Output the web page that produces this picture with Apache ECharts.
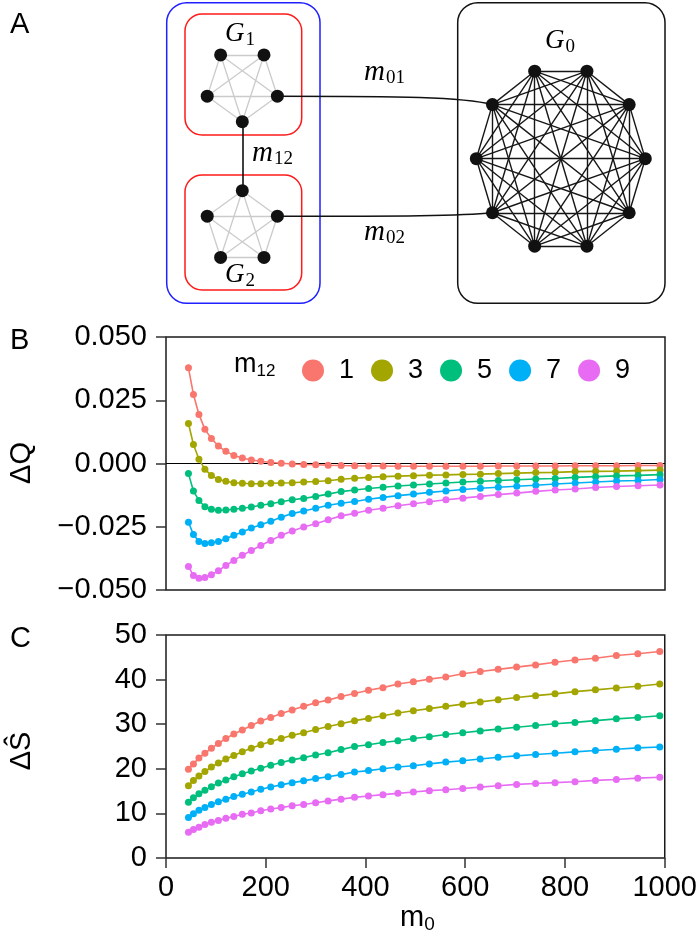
<!DOCTYPE html>
<html>
<head>
<meta charset="utf-8">
<title>Modules G1, G2 and G0: dQ and dS against m0</title>
<script src="https://cdn.jsdelivr.net/npm/echarts@6/dist/echarts.min.js"></script>
<style>
  html, body { margin: 0; padding: 0; background: #fff; }
  #chart { width: 700px; height: 939px; }
</style>
</head>
<body>
<div id="chart"></div>
<script>
// x values: m0 (links inside G0)
var m0 = [45, 55, 66, 78, 91, 105, 120, 136, 153, 171, 190, 210, 231, 253, 276, 300, 325, 351,
          378, 406, 435, 465, 496, 528, 561, 595, 630, 666, 703, 741, 780, 820, 861, 903, 946, 990];

var m12Levels = ['1', '3', '5', '7', '9'];
var colors = ['#F8766D', '#A3A500', '#00BF7D', '#00B0F6', '#E76BF3'];

// panel B, delta Q
var dQ1 = [0.0378, 0.0273, 0.0194, 0.0135, 0.0099, 0.0069, 0.0048, 0.0032, 0.0022, 0.0014, 0.0009, 0.0004,
           0.0001, -0.0002, -0.0004, -0.0005, -0.0007, -0.0008, -0.0009, -0.0010, -0.0010, -0.0011, -0.0011, -0.0011,
           -0.0011, -0.0011, -0.0011, -0.0010, -0.0010, -0.0010, -0.0010, -0.0009, -0.0009, -0.0009, -0.0008, -0.0008];
var dQ3 = [0.0158, 0.0075, 0.0017, -0.0023, -0.0047, -0.0063, -0.0070, -0.0076, -0.0078, -0.0080, -0.0080, -0.0078,
           -0.0077, -0.0076, -0.0073, -0.0071, -0.0068, -0.0062, -0.0058, -0.0055, -0.0052, -0.0050, -0.0048, -0.0046,
           -0.0045, -0.0043, -0.0042, -0.0040, -0.0038, -0.0036, -0.0035, -0.0032, -0.0031, -0.0030, -0.0028, -0.0026];
var dQ5 = [-0.0040, -0.0109, -0.0146, -0.0171, -0.0181, -0.0185, -0.0184, -0.0181, -0.0177, -0.0172, -0.0165, -0.0159,
           -0.0151, -0.0143, -0.0138, -0.0130, -0.0121, -0.0111, -0.0105, -0.0099, -0.0094, -0.0089, -0.0085, -0.0081,
           -0.0077, -0.0073, -0.0070, -0.0067, -0.0064, -0.0061, -0.0059, -0.0055, -0.0052, -0.0049, -0.0047, -0.0044];
var dQ7 = [-0.0232, -0.0281, -0.0308, -0.0316, -0.0313, -0.0308, -0.0297, -0.0284, -0.0271, -0.0255, -0.0242, -0.0228,
           -0.0212, -0.0198, -0.0188, -0.0177, -0.0165, -0.0157, -0.0150, -0.0141, -0.0134, -0.0127, -0.0121, -0.0114,
           -0.0109, -0.0103, -0.0098, -0.0094, -0.0090, -0.0086, -0.0081, -0.0077, -0.0073, -0.0069, -0.0067, -0.0063];
var dQ9 = [-0.0407, -0.0443, -0.0454, -0.0451, -0.0440, -0.0424, -0.0403, -0.0383, -0.0363, -0.0344, -0.0324, -0.0304,
           -0.0284, -0.0267, -0.0251, -0.0238, -0.0222, -0.0207, -0.0197, -0.0185, -0.0177, -0.0167, -0.0159, -0.0151,
           -0.0143, -0.0137, -0.0130, -0.0123, -0.0117, -0.0110, -0.0105, -0.0101, -0.0095, -0.0091, -0.0088, -0.0085];

// panel C, delta S hat
var dS1 = [19.9, 21.1, 22.4, 23.5, 24.6, 25.7, 26.8, 27.8, 28.7, 29.7, 30.7, 31.5, 32.4, 33.2, 34.0, 34.8, 35.4, 36.2,
           36.9, 37.6, 38.2, 39.0, 39.5, 40.1, 40.6, 41.3, 41.8, 42.3, 42.8, 43.3, 43.9, 44.4, 44.8, 45.4, 45.8, 46.3];
var dS3 = [16.2, 17.4, 18.4, 19.4, 20.4, 21.3, 22.2, 23.0, 23.8, 24.6, 25.4, 26.1, 26.8, 27.5, 28.1, 28.8, 29.5, 30.1,
           30.8, 31.3, 31.9, 32.5, 33.0, 33.5, 34.0, 34.5, 35.0, 35.5, 36.0, 36.4, 36.8, 37.3, 37.7, 38.1, 38.5, 39.0];
var dS5 = [12.5, 13.5, 14.4, 15.2, 16.0, 16.8, 17.5, 18.2, 18.9, 19.5, 20.1, 20.8, 21.4, 22.0, 22.5, 23.1, 23.6, 24.3,
           25.0, 25.4, 25.9, 26.3, 26.8, 27.2, 27.7, 28.1, 28.5, 28.9, 29.3, 29.7, 30.1, 30.4, 30.8, 31.2, 31.5, 31.9];
var dS7 = [9.1, 9.9, 10.7, 11.3, 12.0, 12.6, 13.2, 13.8, 14.3, 14.8, 15.4, 15.9, 16.4, 16.9, 17.3, 17.8, 18.2, 18.7,
           19.3, 19.6, 20.0, 20.4, 20.7, 21.1, 21.5, 21.8, 22.2, 22.6, 22.9, 23.2, 23.5, 23.8, 24.1, 24.4, 24.7, 24.9];
var dS9 = [5.8, 6.4, 6.9, 7.5, 8.0, 8.4, 8.9, 9.3, 9.8, 10.1, 10.6, 11.0, 11.3, 11.7, 12.0, 12.4, 12.8, 13.2,
           13.6, 13.9, 14.2, 14.5, 14.8, 15.1, 15.3, 15.6, 15.9, 16.2, 16.5, 16.7, 16.9, 17.1, 17.4, 17.6, 17.9, 18.1];

var dQ = [dQ1, dQ3, dQ5, dQ7, dQ9];
var dS = [dS1, dS3, dS5, dS7, dS9];

var sans = '"Liberation Sans", Arial, Helvetica, sans-serif';
var serif = '"Liberation Serif", "DejaVu Serif", serif';

function pairs(ys) {
  return m0.map(function (x, i) { return [x, ys[i]]; });
}

// regular polygon layout for the diagram (panel A), in the hidden 1:1 grid
function ring(cx, cy, rx, ry, startDeg, count) {
  var pts = [];
  for (var i = 0; i < count; i++) {
    var a = (startDeg + i * 360 / count) * Math.PI / 180;
    pts.push([cx + rx * Math.cos(a), cy + ry * Math.sin(a)]);
  }
  return pts;
}

var g1 = ring(242.3, 84.8, 36.9, 36.9, 18, 5);   // 0 = right, 1 = bottom
var g2 = ring(242.3, 227.6, 36.9, 36.9, -18, 5); // 0 = right, 4 = top
var g0 = ring(560.8, 158.7, 84.5, 92, 0, 10);    // 4 = lower left, 6 = upper left

var nodes = [];
var links = [];
function addClique(pts, edgeColor, edgeWidth) {
  var base = nodes.length;
  pts.forEach(function (p) { nodes.push({ value: p }); });
  for (var i = 0; i < pts.length; i++) {
    for (var j = i + 1; j < pts.length; j++) {
      links.push({ source: base + i, target: base + j,
                   lineStyle: { color: edgeColor, width: edgeWidth, opacity: 1 } });
    }
  }
  return base;
}
var b1 = addClique(g1, '#cbcbcb', 1.3);
var b2 = addClique(g2, '#cbcbcb', 1.3);
var b0 = addClique(g0, '#161616', 1.4);
links.push({ source: b1 + 1, target: b2 + 4, lineStyle: { color: '#111', width: 1.6, opacity: 1 } });

var qLabel = function (v) {
  if (Math.abs(v) < 1e-9) return '0.000';
  return v.toFixed(3).replace('-', '\u2212');
};

var tickStyle = { show: true, inside: false, length: 10, lineStyle: { color: '#333', width: 1.5 } };

var series = [];
m12Levels.forEach(function (name, k) {
  var s = {
    name: name, type: 'line', xAxisIndex: 0, yAxisIndex: 0,
    data: pairs(dQ[k]), symbol: 'circle', symbolSize: 7,
    itemStyle: { color: colors[k] }, lineStyle: { color: colors[k], width: 1.6 },
    z: 3
  };
  if (k === 0) {
    s.markLine = {
      silent: true, symbol: 'none', label: { show: false },
      lineStyle: { color: '#000', width: 1, type: 'solid' },
      data: [{ yAxis: 0 }], z: 2
    };
  }
  series.push(s);
});
m12Levels.forEach(function (name, k) {
  series.push({
    name: name, type: 'line', xAxisIndex: 1, yAxisIndex: 1,
    data: pairs(dS[k]), symbol: 'circle', symbolSize: 7,
    itemStyle: { color: colors[k] }, lineStyle: { color: colors[k], width: 1.6 }
  });
});
series.push({
  type: 'graph', coordinateSystem: 'cartesian2d', xAxisIndex: 2, yAxisIndex: 2,
  layout: 'none', silent: true, symbol: 'circle', symbolSize: 13,
  itemStyle: { color: '#111' }, label: { show: false },
  lineStyle: { opacity: 1 },
  edgeSymbol: ['none', 'none'],
  data: nodes, links: links
});

var chart = echarts.init(document.getElementById('chart'));
chart.setOption({
  animation: false,
  backgroundColor: '#fff',
  grid: [
    { left: 166, top: 337, width: 499, height: 253, show: true, borderColor: '#1a1a1a', borderWidth: 1.5 },
    { left: 166, top: 635, width: 499, height: 223, show: true, borderColor: '#1a1a1a', borderWidth: 1.5 },
    { left: 0, top: 0, width: 700, height: 310, show: false }
  ],
  xAxis: [
    { gridIndex: 0, type: 'value', min: 0, max: 1000, interval: 200,
      axisLine: { show: false }, axisTick: { show: false }, axisLabel: { show: false }, splitLine: { show: false } },
    { gridIndex: 1, type: 'value', min: 0, max: 1000, interval: 200,
      axisLine: { show: false }, axisTick: tickStyle, splitLine: { show: false },
      axisLabel: { color: '#000', fontSize: 29, fontFamily: sans, margin: 15,
                   formatter: function (v) { return String(v); } } },
    { gridIndex: 2, type: 'value', min: 0, max: 700, show: false }
  ],
  yAxis: [
    { gridIndex: 0, type: 'value', min: -0.05, max: 0.05, interval: 0.025,
      axisLine: { show: false }, axisTick: tickStyle, splitLine: { show: false },
      axisLabel: { color: '#000', fontSize: 29, fontFamily: sans, margin: 19, formatter: qLabel } },
    { gridIndex: 1, type: 'value', min: 0, max: 50, interval: 10,
      axisLine: { show: false }, axisTick: tickStyle, splitLine: { show: false },
      axisLabel: { color: '#000', fontSize: 29, fontFamily: sans, margin: 19 } },
    { gridIndex: 2, type: 'value', min: 0, max: 310, inverse: true, show: false }
  ],
  legend: {
    data: m12Levels, left: 297, top: 352, orient: 'horizontal',
    icon: 'circle', itemWidth: 22, itemHeight: 22, itemGap: 17,
    textStyle: { color: '#000', fontSize: 27, fontFamily: sans, padding: [0, 0, 0, 10] },
    selectedMode: false
  },
  series: series
});

// text, frames and the two S-shaped links of panel A
var measureCtx = document.createElement('canvas').getContext('2d');
function subLabel(x, y, main, sub, o) {
  var style = o.italic ? 'italic' : 'normal';
  measureCtx.font = style + ' ' + o.size + 'px ' + o.family;
  var w = measureCtx.measureText(main).width;
  return [
    { type: 'text', x: x, y: y, z: 10,
      style: { text: main, fontSize: o.size, fontFamily: o.family, fontStyle: style, fill: '#000', verticalAlign: 'middle' } },
    { type: 'text', x: x + w + (o.gap || 0), y: y + o.drop, z: 10,
      style: { text: sub, fontSize: o.subSize, fontFamily: o.subFamily || o.family, fill: '#000', verticalAlign: 'middle' } }
  ];
}
function frame(x, y, w, h, r, color) {
  return { type: 'rect', z: 1, shape: { x: x, y: y, width: w, height: h, r: r },
           style: { fill: null, stroke: color, lineWidth: 1.5 } };
}
function sCurve(a, b) {
  var p0 = chart.convertToPixel({ xAxisIndex: 2, yAxisIndex: 2 }, a);
  var p3 = chart.convertToPixel({ xAxisIndex: 2, yAxisIndex: 2 }, b);
  var dx = p3[0] - p0[0], dy = p3[1] - p0[1];
  return { type: 'bezierCurve', z: 2,
    shape: { x1: p0[0], y1: p0[1], cpx1: p0[0] + 0.57 * dx, cpy1: p0[1],
             cpx2: p3[0] - 0.14 * dx, cpy2: p0[1] + 0.1 * dy, x2: p3[0], y2: p3[1] },
    style: { fill: null, stroke: '#111', lineWidth: 1.5 } };
}

var mathMain = { italic: true, size: 27, family: serif, subSize: 19, drop: 6, gap: 1 };
var mathM = { italic: true, size: 29, family: serif, subSize: 19, drop: 6, gap: 1 };
var plainSub = { italic: false, size: 27, family: sans, subSize: 17, drop: 6, gap: 0 };

var graphic = [
  frame(166.7, 2.7, 153.3, 300.6, 20, '#1f1fff'),
  frame(185, 14, 116.7, 121, 17, '#ff1a1a'),
  frame(185, 175, 116.7, 115, 17, '#ff1a1a'),
  frame(457.7, 2.7, 207.3, 300.6, 20, '#111'),
  sCurve(g1[0], g0[6]),
  sCurve(g2[0], g0[4]),
  { type: 'text', x: 10, y: 25, style: { text: 'A', fontSize: 29, fontFamily: sans, fill: '#000', verticalAlign: 'middle' } },
  { type: 'text', x: 10, y: 341, style: { text: 'B', fontSize: 29, fontFamily: sans, fill: '#000', verticalAlign: 'middle' } },
  { type: 'text', x: 10, y: 639, style: { text: 'C', fontSize: 29, fontFamily: sans, fill: '#000', verticalAlign: 'middle' } },
  { type: 'text', x: 22, y: 463, rotation: Math.PI / 2,
    style: { text: '\u0394Q', fontSize: 29, fontFamily: sans, fill: '#000', align: 'center', verticalAlign: 'middle' } },
  { type: 'text', x: 22, y: 751, rotation: Math.PI / 2,
    style: { text: '\u0394\u015C', fontSize: 29, fontFamily: sans, fill: '#000', align: 'center', verticalAlign: 'middle' } }
];
graphic = graphic
  .concat(subLabel(225, 34, 'G', '1', mathMain))
  .concat(subLabel(225, 275, 'G', '2', mathMain))
  .concat(subLabel(545, 41, 'G', '0', mathMain))
  .concat(subLabel(252, 153, 'm', '12', mathM))
  .concat(subLabel(364, 72, 'm', '01', mathM))
  .concat(subLabel(364, 232, 'm', '02', mathM))
  .concat(subLabel(234, 365, 'm', '12', plainSub))
  .concat(subLabel(400, 918, 'm', '0', { italic: false, size: 29, family: sans, subSize: 19, drop: 7, gap: 0 }));

chart.setOption({ graphic: graphic });
</script>
</body>
</html>
